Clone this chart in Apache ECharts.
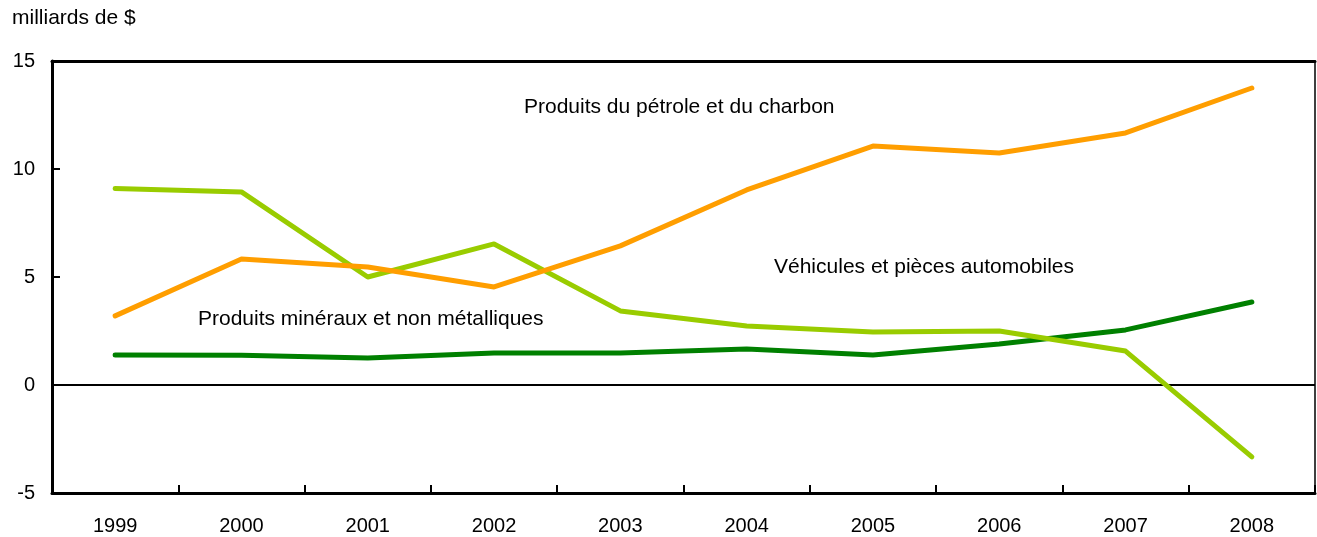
<!DOCTYPE html>
<html>
<head>
<meta charset="utf-8">
<script src="https://cdn.jsdelivr.net/npm/echarts@6/dist/echarts.min.js"></script>
<style>
html,body{margin:0;padding:0;background:#fff;}
#chart{width:1317px;height:537px;}
</style>
</head>
<body>
<div id="chart"></div>
<script>
const years = ['1999','2000','2001','2002','2003','2004','2005','2006','2007','2008'];
const petrole = [3.2, 5.83, 5.46, 4.54, 6.44, 9.03, 11.06, 10.74, 11.67, 13.75];
const vehicules = [9.1, 8.94, 5.0, 6.53, 3.43, 2.73, 2.45, 2.5, 1.57, -3.33];
const mineraux = [1.39, 1.38, 1.25, 1.48, 1.48, 1.67, 1.39, 1.9, 2.55, 3.84];
const yTicks = [-5, 0, 5, 10, 15];

const FONT = '"Liberation Sans", Arial, Helvetica, sans-serif';
const chart = echarts.init(document.getElementById('chart'), null, {renderer: 'canvas'});

function lineSeries(name, data, color) {
  return {
    name: name, type: 'line', data: data, symbol: 'none',
    lineStyle: {color: color, width: 5, cap: 'round', join: 'round'},
    itemStyle: {color: color},
    z: 3, animation: false
  };
}

const option = {
  animation: false,
  backgroundColor: '#fff',
  grid: {left: 52, top: 61, right: 2, bottom: 44, show: true, borderColor: '#000', borderWidth: 1.5},
  xAxis: [{
    type: 'category', data: years, boundaryGap: true,
    axisLine: {show: true, onZero: false, lineStyle: {color: '#000', width: 3}},
    axisTick: {show: true, alignWithLabel: false, interval: 0, inside: true, length: 8, lineStyle: {color: '#000', width: 2}},
    axisLabel: {color: '#000', fontFamily: FONT, fontSize: 20, margin: 23, interval: 0}
  }, {
    type: 'category', data: years, position: 'top', boundaryGap: true,
    axisLine: {show: true, onZero: false, lineStyle: {color: '#000', width: 3}},
    axisTick: {show: false}, axisLabel: {show: false}
  }],
  yAxis: {
    type: 'value', min: yTicks[0], max: yTicks[yTicks.length - 1], interval: 5,
    axisLine: {show: true, onZero: false, lineStyle: {color: '#000', width: 3}},
    axisTick: {show: true, inside: true, length: 8, lineStyle: {color: '#000', width: 2}},
    splitLine: {show: false},
    axisLabel: {color: '#000', fontFamily: FONT, fontSize: 20, margin: 17}
  },
  graphic: [
    {type: 'text', left: 12, top: 8, style: {text: 'milliards de $', fill: '#000', font: '21px ' + FONT}},
    {type: 'text', left: 524, top: 97, style: {text: 'Produits du pétrole et du charbon', fill: '#000', font: '21px ' + FONT}},
    {type: 'text', left: 774, top: 257, style: {text: 'Véhicules et pièces automobiles', fill: '#000', font: '21px ' + FONT}},
    {type: 'text', left: 198, top: 309, style: {text: 'Produits minéraux et non métalliques', fill: '#000', font: '21px ' + FONT}}
  ],
  series: [
    Object.assign(lineSeries('Produits minéraux et non métalliques', mineraux, '#008000'), {
      markLine: {
        silent: true, symbol: 'none', label: {show: false},
        lineStyle: {color: '#000', width: 2, type: 'solid'},
        data: [{yAxis: 0}], z: 2, animation: false
      }
    }),
    lineSeries('Véhicules et pièces automobiles', vehicules, '#99CC00'),
    lineSeries('Produits du pétrole et du charbon', petrole, '#FF9E00')
  ]
};
chart.setOption(option);
</script>
</body>
</html>
